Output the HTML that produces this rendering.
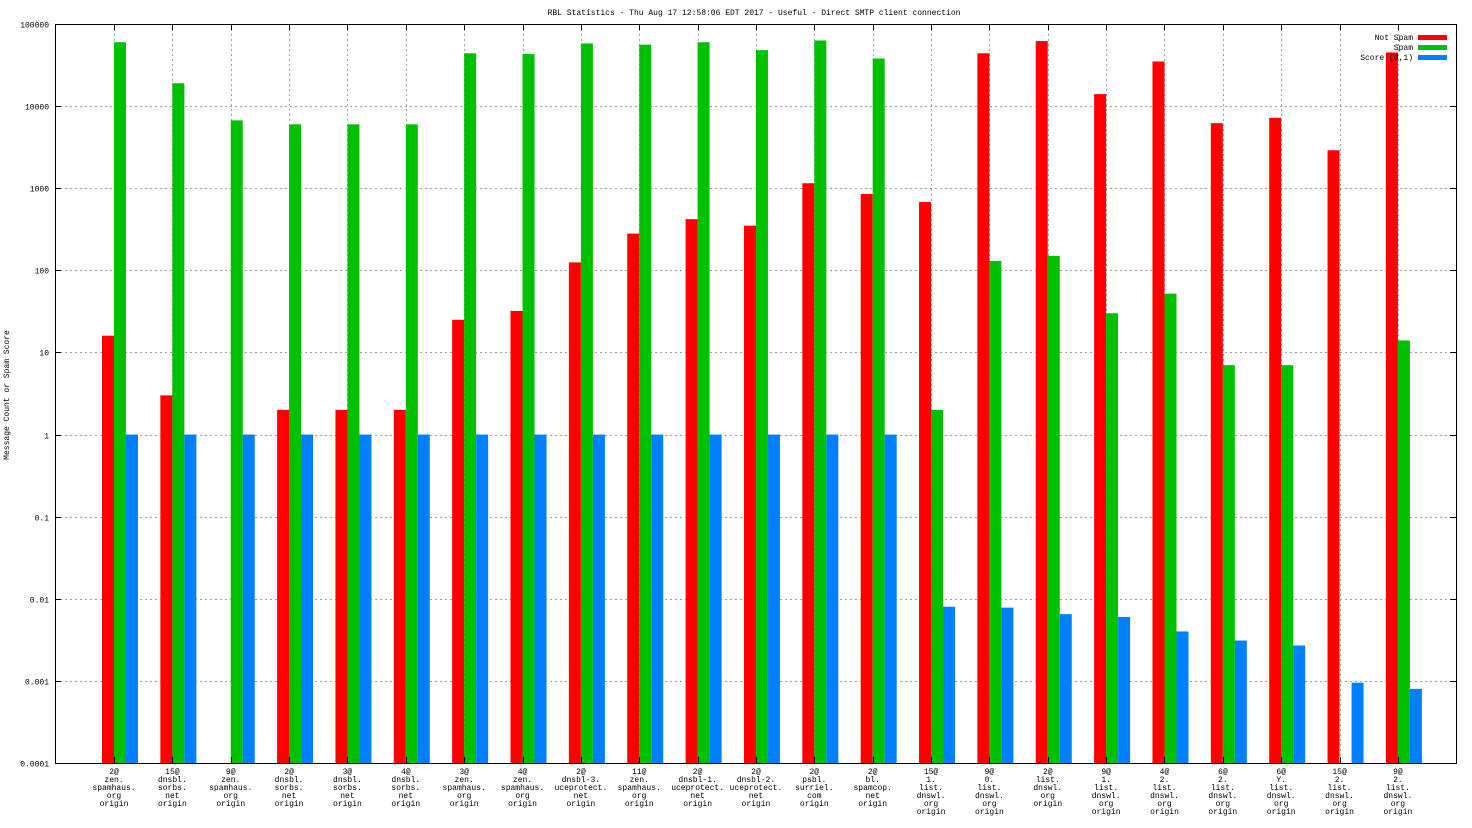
<!DOCTYPE html>
<html><head><meta charset="utf-8"><style>
html,body{margin:0;padding:0;background:#fff;}
svg{display:block;font-family:"Liberation Mono","DejaVu Sans Mono",monospace;}
</style></head><body>
<svg id="c" width="1472" height="828" viewBox="0 0 1472 828">
<text x="754" y="15" font-size="8" text-anchor="middle">RBL Statistics - Thu Aug 17 12:58:06 EDT 2017 - Useful - Direct SMTP client connection</text>
<text x="0" y="0" font-size="8" text-anchor="middle" transform="translate(9,395) rotate(-90)">Message Count or Spam Score</text>
<g id="grid"></g><g id="bars"></g><g id="axes"></g>
<g font-size="8" text-anchor="end">
<text x="1413" y="40">Not Spam</text>
<rect x="1418" y="35" width="29" height="5" fill="#ff0000"/>
<text x="1413" y="50">Spam</text>
<rect x="1418" y="45" width="29" height="5" fill="#00c000"/>
<text x="1413" y="60">Score (0,1)</text>
<rect x="1418" y="55" width="29" height="5" fill="#0080ff"/>
</g>
</svg>
<script>
const categories=[["2@","zen.","spamhaus.","org","origin"],["15@","dnsbl.","sorbs.","net","origin"],["9@","zen.","spamhaus.","org","origin"],["2@","dnsbl.","sorbs.","net","origin"],["3@","dnsbl.","sorbs.","net","origin"],["4@","dnsbl.","sorbs.","net","origin"],["3@","zen.","spamhaus.","org","origin"],["4@","zen.","spamhaus.","org","origin"],["2@","dnsbl-3.","uceprotect.","net","origin"],["11@","zen.","spamhaus.","org","origin"],["2@","dnsbl-1.","uceprotect.","net","origin"],["2@","dnsbl-2.","uceprotect.","net","origin"],["2@","psbl.","surriel.","com","origin"],["2@","bl.","spamcop.","net","origin"],["15@","1.","list.","dnswl.","org","origin"],["9@","0.","list.","dnswl.","org","origin"],["2@","list.","dnswl.","org","origin"],["9@","1.","list.","dnswl.","org","origin"],["4@","2.","list.","dnswl.","org","origin"],["6@","2.","list.","dnswl.","org","origin"],["6@","Y.","list.","dnswl.","org","origin"],["15@","2.","list.","dnswl.","org","origin"],["9@","2.","list.","dnswl.","org","origin"]];
const notSpam=[16,3,0,2,2,2,25,32,125,280,420,350,1150,850,680,44000,62000,14000,35000,6200,7200,2900,45000];
const spam=[60000,19000,6700,6000,6000,6000,44000,43000,58000,56000,60000,48000,63000,38000,2,130,150,30,52,7,7,0,14];
const score=[1,1,1,1,1,1,1,1,1,1,1,1,1,1,0.008,0.0078,0.0065,0.006,0.004,0.0031,0.0027,0.00095,0.0008];
const yTicks=["100000","10000","1000","100","10","1","0.1","0.01","0.001","0.0001"];
const L=55,R=1456,T=24,B=763;
const NS="http://www.w3.org/2000/svg";
function y(v){return B-(Math.log10(v)+4)/9*(B-T);}
function xc(i){return 114+i*58.36;}
function mk(tag,attrs,parent){const e=document.createElementNS(NS,tag);for(const k in attrs)e.setAttribute(k,attrs[k]);parent.appendChild(e);return e;}
const grid=document.getElementById('grid'),bars=document.getElementById('bars'),axes=document.getElementById('axes');
yTicks.forEach(t=>{const yy=Math.round(y(parseFloat(t)))+0.5;
 mk('line',{x1:L,x2:R,y1:yy,y2:yy,stroke:'#a0a0a0','stroke-dasharray':'2,3'},grid);
 mk('line',{x1:L,x2:L+6,y1:yy,y2:yy,stroke:'#000'},axes);
 mk('line',{x1:R-6,x2:R,y1:yy,y2:yy,stroke:'#000'},axes);
 const tx=mk('text',{x:L-6,y:yy+3,'font-size':8,'text-anchor':'end'},axes);tx.textContent=t;
 
 
});
const series=[[notSpam,'#ff0000',-12],[spam,'#00c000',0],[score,'#0080ff',12]];
categories.forEach((c,i)=>{const x=Math.round(xc(i))+0.5;
 mk('line',{x1:x,x2:x,y1:T,y2:B,stroke:'#a0a0a0','stroke-dasharray':'2,3'},grid);
 mk('line',{x1:x,x2:x,y1:B-6,y2:B,stroke:'#000'},axes);
 mk('line',{x1:x,x2:x,y1:T,y2:T+6,stroke:'#000'},axes);
 c.forEach((s,j)=>{const t=mk('text',{x:xc(i),y:774+j*8,'font-size':8,'text-anchor':'middle'},axes);t.textContent=s;
  
  });
 series.forEach(([arr,col,off])=>{const v=arr[i];if(!(v>0))return;
  const yy=y(v);
  const r=mk('rect',{x:xc(i)+off,y:yy,width:12,height:B-yy,fill:col},bars);
  
  
 });
});
mk('rect',{x:L+0.5,y:T+0.5,width:R-L,height:B-T,fill:'none',stroke:'#000'},axes);
</script>
</body></html>
